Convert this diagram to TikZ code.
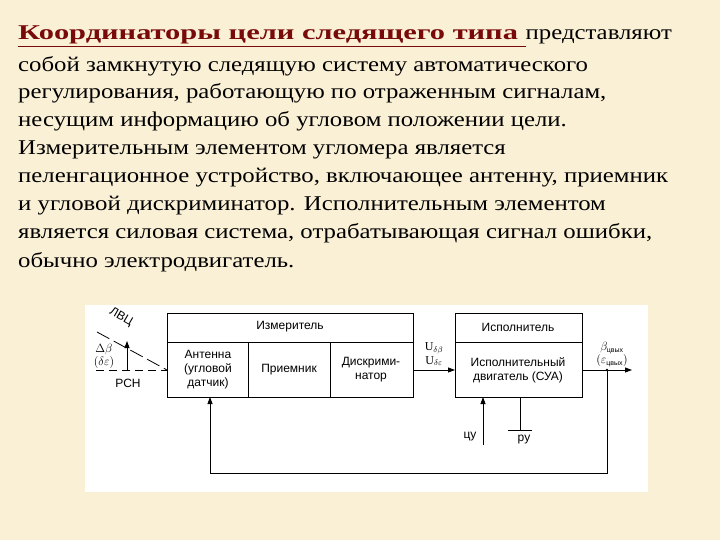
\documentclass[tikz,border=0pt]{standalone}
\usepackage{fontspec}
\setmainfont{Liberation Serif}
\setsansfont{Liberation Sans}
\newfontfamily\bodyfont[FakeStretch=1.18]{Liberation Serif}
\newfontfamily\titlefont[FakeStretch=1.45]{Liberation Serif}
\usetikzlibrary{arrows.meta}
\definecolor{bg}{RGB}{250,240,214}
\definecolor{ttl}{RGB}{120,10,10}
\begin{document}
\begin{tikzpicture}[x=1pt,y=-1pt,
  txt/.style={anchor=base west,inner sep=0,font=\bodyfont\fontsize{21}{21}\selectfont},
  lbl/.style={font=\sffamily\fontsize{12}{14}\selectfont,align=center,inner sep=0},
  sml/.style={font=\fontsize{12}{12}\selectfont,inner sep=0},
  ln/.style={line width=0.8pt},
  arr/.style={ln,-{Triangle[length=7pt,width=5pt]}}]
\fill[bg] (0,0) rectangle (720,540);
\useasboundingbox (0,0) rectangle (720,540);
\node[txt] (l1) at (18,40) {\textcolor{ttl}{\titlefont\bfseries\underline{Координаторы цели следящего типа }}представляют};
\node[txt] (l2) at (18,72) {собой замкнутую следящую систему автоматического};
\node[txt] (l3) at (18,99) {регулирования, работающую по отраженным сигналам,};
\node[txt] (l4) at (18,127) {несущим информацию об угловом положении цели.};
\node[txt] (l5) at (18,155) {Измерительным элементом угломера является};
\node[txt] (l6) at (18,183) {пеленгационное устройство, включающее антенну, приемник};
\node[txt] (l7) at (18,211) {и угловой дискриминатор. Исполнительным элементом};
\node[txt] (l8) at (18,239) {является силовая система, отрабатывающая сигнал ошибки,};
\node[txt] (l9) at (18,267) {обычно электродвигатель.};
\fill[white] (85,305) rectangle (648,492);
% boxes
\draw[ln] (167,313) rectangle (413,397);
\draw[ln] (167,342) -- (413,342);
\draw[ln] (248,342) -- (248,397);
\draw[ln] (330,342) -- (330,397);
\node[lbl] (izm) at (290,327) {Измеритель};
\node[lbl] (ant) at (208,370) {Антенна\\(угловой\\датчик)};
\node[lbl] (pri) at (289,370) {Приемник};
\node[lbl] (dis) at (371,370) {Дискрими-\\натор};
\draw[ln] (455,313) rectangle (582,397);
\draw[ln] (455,342) -- (582,342);
\node[lbl] (isp) at (518,327) {Исполнитель};
\node[lbl] (dv) at (518,370) {Исполнительный\\двигатель (СУА)};
\coordinate (dout) at (413,370);
\coordinate (din) at (455,370);
\draw[arr] (dout) -- (din);
\node[sml] (u1) at (434,348) {U$_{\delta\beta}$};
\node[sml] (u2) at (434,361) {U$_{\delta\varepsilon}$};
\coordinate (o1) at (582,370);
\coordinate (o2) at (632,370);
\coordinate (j) at (607,370);
\draw[arr] (o1) -- (o2);
\fill (j) circle (1.3pt);
\node[sml] (b1) at (612,348) {$\beta_{\mbox{\sffamily\scriptsize цвых}}$};
\node[sml] (b2) at (612,361) {$(\varepsilon_{\mbox{\sffamily\scriptsize цвых}})$};
\coordinate (fb1) at (607,473);
\coordinate (fb2) at (210,473);
\coordinate (fb3) at (210,397);
\draw[arr] (j) -- (fb1) -- (fb2) -- (fb3);
\coordinate (cu0) at (483,445);
\coordinate (cu1) at (483,397);
\draw[arr] (cu0) -- (cu1);
\node[lbl] (cu) at (470,437) {цу};
\coordinate (ru0) at (520,397);
\coordinate (ru1) at (520,430);
\draw[ln] (ru0) -- (ru1);
\draw[ln] (508,430) -- (532,430);
\node[lbl] (ru) at (524,440) {ру};
% left part
\coordinate (h0) at (96,370);
\coordinate (h1) at (167,370);
\draw[ln,dash pattern=on 8pt off 5pt] (h0) -- (h1);
\coordinate (d0) at (97,332);
\draw[ln,dash pattern=on 14pt off 5pt] (d0) -- (h1);
\coordinate (a0) at (127,370);
\coordinate (a1) at (127,341);
\draw[arr] (a0) -- (a1);
\node[sml] (db) at (104,349) {$\Delta\beta$};
\node[sml] (de) at (104,362) {$(\delta\varepsilon)$};
\node[lbl] (rsn) at (128,383) {РСН};
\node[lbl,rotate=-30] (lvc) at (121,317) {ЛВЦ};
\end{tikzpicture}
\end{document}
